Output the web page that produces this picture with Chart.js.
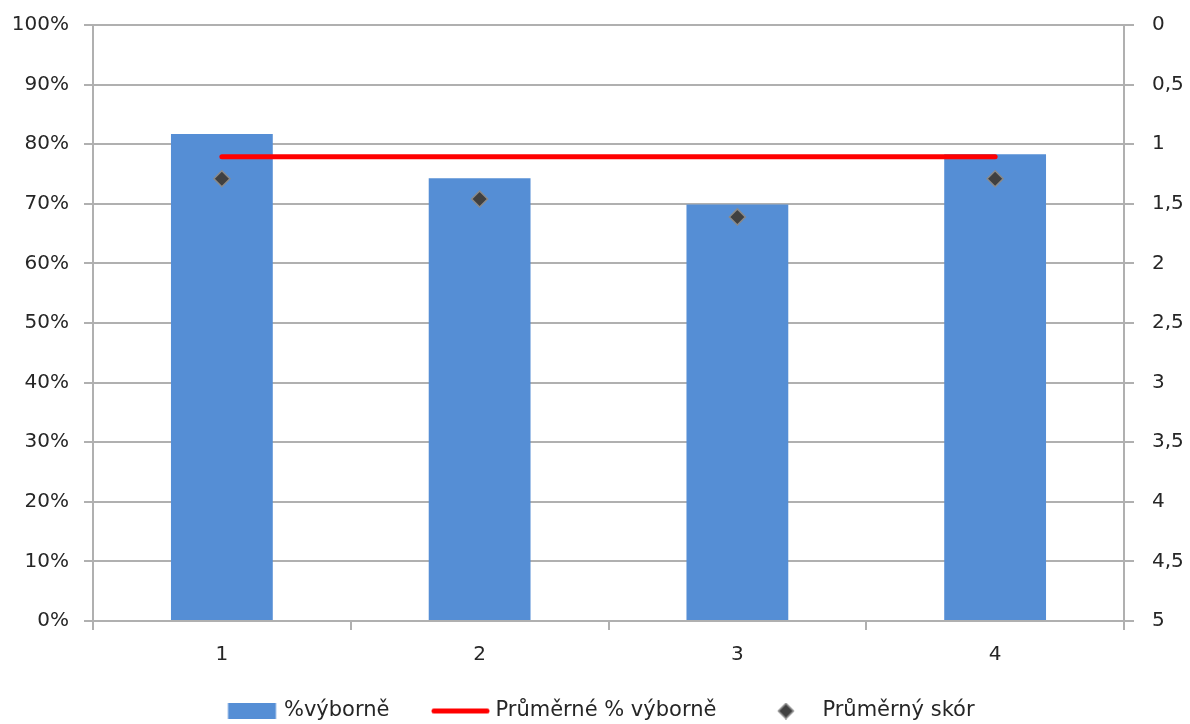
<!DOCTYPE html>
<html>
<head>
<meta charset="utf-8">
<script src="https://cdn.jsdelivr.net/npm/chart.js@4"></script>
<style>
  html, body { margin: 0; padding: 0; background: #ffffff; }
  #wrap { width: 1190px; height: 724px; position: relative; }
</style>
</head>
<body>
<div id="wrap"><canvas id="chart"></canvas></div>
<script>
// Categories and series
const categories = ['1', '2', '3', '4'];
const pctExcellent = [81.7, 74.3, 69.9, 78.3];      // %výborně (left axis, %)
const avgPctExcellent = [77.9, 77.9, 77.9, 77.9];   // Průměrné % výborně (left axis, %)
const avgScore = [1.29, 1.46, 1.61, 1.29];          // Průměrný skór (right axis, reversed)
const seriesNames = ['%výborně', 'Průměrné % výborně', 'Průměrný skór'];

const BAR_BLUE = '#558ED5';
const LINE_RED = '#FF0000';
const GRID = '#b0b0b0';
const TEXT = '#262626';

Chart.defaults.font.family = '"DejaVu Sans", Verdana, sans-serif';
Chart.defaults.color = TEXT;

// Legend symbols: each canvas is centred on its legend slot (width SLOT),
// so the symbol is drawn at an offset measured from the slot's left edge.
const SLOT = 58;
const HALF = 40;
function makeIcon(h, draw) {
  const c = document.createElement('canvas');
  c.width = HALF * 2; c.height = h;
  const g = c.getContext('2d');
  g.translate(HALF - SLOT / 2, 0); // origin = slot's left edge
  draw(g, h);
  return c;
}
const iconBar = makeIcon(16, (g, h) => { g.fillStyle = BAR_BLUE; g.fillRect(12.5, 0, 48, h); });
const iconLine = makeIcon(7, (g, h) => {
  g.strokeStyle = LINE_RED; g.lineWidth = 5; g.lineCap = 'round';
  g.beginPath(); g.moveTo(7, h / 2); g.lineTo(60, h / 2); g.stroke();
});
const iconDiamond = makeIcon(17, (g, h) => {
  const cx = 32, cy = h / 2, r = 7.5;
  g.fillStyle = '#404040'; g.strokeStyle = '#8a8a8a'; g.lineWidth = 1.5;
  g.beginPath(); g.moveTo(cx, cy - r); g.lineTo(cx + r, cy); g.lineTo(cx, cy + r); g.lineTo(cx - r, cy); g.closePath();
  g.fill(); g.stroke();
});
const legendIcons = [iconBar, iconLine, iconDiamond];

// Value axes keep their label padding sideways only; the top edge is set by layout padding.
const trimAxisPadding = (w) => (s) => { s.width = w; s.paddingTop = 0; s.paddingBottom = 0; };

new Chart(document.getElementById('chart'), {
  data: {
    labels: categories,
    datasets: [
      {
        type: 'bar',
        label: seriesNames[0],
        data: pctExcellent,
        backgroundColor: BAR_BLUE,
        borderWidth: 0,
        categoryPercentage: 1,
        barPercentage: 0.395,
        yAxisID: 'y',
        order: 3
      },
      {
        type: 'line',
        label: seriesNames[1],
        data: avgPctExcellent,
        borderColor: LINE_RED,
        backgroundColor: LINE_RED,
        borderWidth: 5,
        borderCapStyle: 'round',
        pointRadius: 0,
        fill: false,
        yAxisID: 'y',
        order: 2
      },
      {
        type: 'line',
        label: seriesNames[2],
        data: avgScore,
        showLine: false,
        pointStyle: 'rectRot',
        pointRadius: 8,
        pointBackgroundColor: '#404040',
        pointBorderColor: '#8a8a8a',
        pointBorderWidth: 1.5,
        yAxisID: 'y2',
        order: 1
      }
    ]
  },
  options: {
    responsive: true,
    maintainAspectRatio: false,
    animation: false,
    layout: { padding: { top: 25, left: 0, right: 0, bottom: 0 } },
    plugins: {
      tooltip: { enabled: false },
      legend: {
        position: 'bottom',
        maxHeight: 61,
        labels: {
          usePointStyle: true,
          pointStyleWidth: SLOT,
          padding: 37.5,
          color: TEXT,
          font: { size: 21 },
          sort: (a, b) => a.datasetIndex - b.datasetIndex,
          generateLabels: (chart) =>
            Chart.defaults.plugins.legend.labels.generateLabels(chart).map((item) => ({
              ...item,
              pointStyle: legendIcons[item.datasetIndex]
            }))
        }
      }
    },
    scales: {
      x: {
        type: 'category',
        offset: true,
        afterFit: (s) => { s.height = 42; },
        grid: {
          offset: true,
          drawOnChartArea: false,
          drawTicks: true,
          tickLength: 9,
          color: GRID,
          lineWidth: 2
        },
        border: { display: true, color: GRID, width: 2 },
        ticks: { font: { size: 20 }, padding: 13, color: TEXT }
      },
      y: {
        position: 'left',
        min: 0,
        max: 100,
        afterFit: trimAxisPadding(93),
        grid: { color: GRID, lineWidth: 2, tickLength: 9 },
        border: { display: true, color: GRID, width: 2 },
        ticks: {
          stepSize: 10,
          padding: 15,
          font: { size: 20 },
          color: TEXT,
          callback: (v) => v + '%'
        }
      },
      y2: {
        position: 'right',
        reverse: true,
        min: 0,
        max: 5,
        afterFit: trimAxisPadding(66),
        grid: { drawOnChartArea: false, color: GRID, lineWidth: 2, tickLength: 10 },
        border: { display: true, color: GRID, width: 2 },
        ticks: {
          stepSize: 0.5,
          padding: 18,
          font: { size: 20 },
          color: TEXT,
          callback: (v) => String(v).replace('.', ',')
        }
      }
    }
  }
});
</script>
</body>
</html>
